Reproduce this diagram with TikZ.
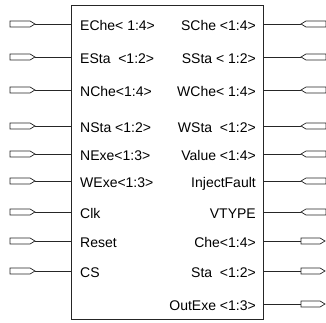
\documentclass[tikz,border=0pt]{standalone}
\usepackage{fontspec}
\setmainfont{Liberation Sans}
\begin{document}
\begin{tikzpicture}[x=1pt,y=-1pt,
  wire/.style={draw=black!85,line width=0.8pt},
  port/.style={draw=black!85,line width=0.7pt,fill=white},
  lbl/.style={font=\fontsize{14}{16}\selectfont,inner sep=0pt}]
\useasboundingbox (0,0) rectangle (326,322);
\draw[wire] (71,5) rectangle (263,319);
\coordinate (boxL) at (71,0);
\coordinate (boxR) at (263,0);
% left inputs
\foreach \t/\y [count=\i] in {{EChe< 1:4>}/24,{ESta\ \ <1:2>}/57,{NChe<1:4>}/90,{NSta <1:2>}/126,{NExe<1:3>}/154,{WExe<1:3>}/181,{Clk}/212,{Reset}/241,{CS}/271}{
  \draw[port] (10,\y-3) -- (30,\y-3) -- (35,\y) -- (30,\y+3) -- (10,\y+3) -- cycle;
  \coordinate (li\i) at (35,\y);
  \coordinate (lb\i) at (71,\y);
  \draw[wire] (li\i) -- (lb\i);
  \node[lbl,anchor=base west] (lt\i) at (80,\y+6) {\t};
}
% right inputs
\foreach \t/\y [count=\i] in {{SChe <1:4>}/24,{SSta < 1:2>}/57,{WChe< 1:4>}/90,{WSta\ \ <1:2>}/126,{Value <1:4>}/154,{InjectFault}/181,{VTYPE}/212}{
  \draw[port] (301,\y) -- (306,\y-3) -- (326,\y-3) -- (326,\y+3) -- (306,\y+3) -- cycle;
  \coordinate (ri\i) at (301,\y);
  \coordinate (rb\i) at (263,\y);
  \draw[wire] (rb\i) -- (ri\i);
  \node[lbl,anchor=base east] (rt\i) at (256,\y+6) {\t};
}
% right outputs
\foreach \t/\y [count=\i] in {{Che<1:4>}/241,{Sta\ \ <1:2>}/271,{OutExe <1:3>}/304}{
  \draw[port] (301,\y-3) -- (320,\y-3) -- (325,\y) -- (320,\y+3) -- (301,\y+3) -- cycle;
  \coordinate (ro\i) at (301,\y);
  \coordinate (rob\i) at (263,\y);
  \draw[wire] (rob\i) -- (ro\i);
  \node[lbl,anchor=base east] (ot\i) at (256,\y+6) {\t};
}
\end{tikzpicture}
\end{document}
